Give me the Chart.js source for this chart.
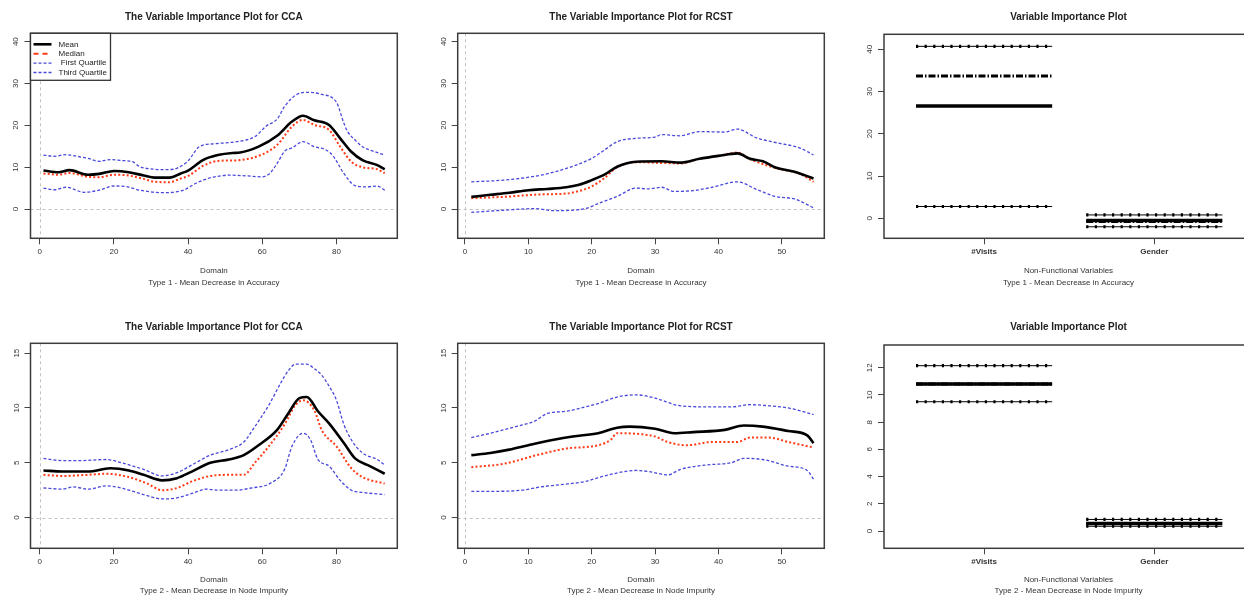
<!DOCTYPE html>
<html><head><meta charset="utf-8">
<script src="https://cdn.jsdelivr.net/npm/chart.js@4.4.1/dist/chart.umd.min.js"></script>
<style>
html,body{margin:0;padding:0;background:#fff;width:1244px;height:598px;overflow:hidden;position:relative}
canvas{position:absolute;display:block}
</style></head><body>
<canvas id="c1" width="415" height="300" style="left:0;top:0"></canvas>
<canvas id="c2" width="415" height="300" style="left:415px;top:0"></canvas>
<canvas id="c3" width="430" height="300" style="left:830px;top:0"></canvas>
<canvas id="c4" width="415" height="298" style="left:0;top:300px"></canvas>
<canvas id="c5" width="415" height="298" style="left:415px;top:300px"></canvas>
<canvas id="c6" width="430" height="298" style="left:830px;top:300px"></canvas>
<script>
// ---------- DATA ----------
// [domain index, importance]
const ccaAccMean = [[1,9.2],[5,8.8],[8,9.3],[13,8.2],[16,8.4],[20,9.1],[24,8.8],[28,8.0],[31,7.5],[35,7.5],[38,8.5],[40,9.2],[44,11.7],[48,12.9],[52,13.4],[54,13.5],[59,14.9],[64,17.5],[68,20.9],[71,22.3],[74,21.2],[78,20.1],[81,16.9],[84,13.7],[87,11.7],[91,10.5],[93,9.5]];
const ccaAccMedian = [[1,8.5],[5,8.2],[8,8.6],[13,7.7],[16,7.6],[20,8.2],[24,8.0],[28,7.2],[31,6.5],[35,6.4],[38,7.3],[40,7.9],[44,10.3],[48,11.5],[52,11.6],[54,11.7],[59,12.7],[64,15.3],[68,19.7],[71,21.3],[74,20.1],[78,18.9],[81,14.9],[84,11.3],[87,10.0],[91,9.5],[93,8.6]];
const ccaAccQ1 = [[1,5.0],[4,4.6],[7,5.2],[12,4.0],[16,4.5],[20,5.5],[23,5.4],[27,4.5],[33,3.9],[36,4.0],[39,4.6],[42,6.1],[45,7.2],[48,7.8],[51,8.1],[56,7.9],[60,7.7],[62,8.5],[64,10.9],[66,13.8],[68,14.6],[71,16.1],[74,14.9],[77,14.2],[79,12.8],[82,8.5],[85,5.6],[88,5.3],[91,5.5],[93,4.5]];
const ccaAccQ3 = [[1,12.9],[4,12.6],[7,13.0],[10,12.6],[13,12.1],[16,11.4],[19,11.8],[22,11.6],[25,11.3],[27,10.1],[30,9.6],[33,9.4],[36,9.5],[38,10.2],[40,11.5],[43,14.9],[47,15.6],[53,16.1],[58,17.3],[61,19.8],[64,21.5],[66,24.5],[69,27.2],[72,27.9],[76,27.4],[80,25.5],[82,20.5],[83,18.5],[85,16.5],[87,14.9],[90,13.8],[93,12.9]];

const rcstAccMean = [[1,2.9],[4,3.4],[7,3.9],[10,4.5],[13,4.8],[16,5.2],[18,5.8],[20,6.9],[22,8.2],[24,10.1],[27,11.3],[31,11.4],[34,11.1],[37,12.0],[40,12.7],[43,13.3],[45,12.0],[47,11.4],[49,9.9],[52,8.9],[55,7.3]];
const rcstAccMedian = [[1,2.6],[6,2.9],[12,3.5],[16,3.7],[18,4.3],[20,5.4],[22,7.4],[24,10.0],[27,11.2],[31,11.0],[34,10.9],[37,12.0],[40,12.7],[43,13.5],[45,11.9],[49,9.8],[53,8.3],[55,6.5]];
const rcstAccQ1 = [[1,-0.8],[6,-0.3],[11,0.1],[14,-0.4],[19,0.1],[21,1.3],[24,3.0],[27,5.0],[29,4.8],[31,5.2],[33,4.2],[36,4.4],[39,5.2],[43,6.5],[46,4.7],[49,3.0],[52,2.4],[55,0.3]];
const rcstAccQ3 = [[1,6.5],[6,6.9],[12,8.1],[16,9.7],[20,12.1],[22,14.1],[24,16.1],[27,16.9],[30,17.2],[31,17.8],[34,17.5],[37,18.5],[41,18.4],[43,19.1],[46,17.0],[49,15.9],[53,14.5],[55,12.9]];

const ccaNodeMean = [[1,4.3],[6,4.2],[13,4.2],[19,4.5],[24,4.3],[28,3.9],[33,3.4],[37,3.6],[41,4.2],[46,5.0],[51,5.3],[55,5.7],[59,6.6],[64,8.0],[67,9.5],[70,10.9],[72,11.0],[75,9.7],[78,8.6],[82,6.8],[85,5.4],[89,4.7],[93,4.0]];
const ccaNodeMedian = [[1,3.9],[6,3.8],[13,3.9],[18,4.0],[24,3.7],[29,3.1],[33,2.5],[37,2.7],[41,3.3],[46,3.8],[51,3.9],[55,3.9],[58,5.0],[62,6.6],[66,8.5],[69,10.3],[71,10.7],[74,9.8],[76,8.0],[80,6.5],[84,4.5],[87,3.7],[93,3.1]];
const ccaNodeQ1 = [[1,2.7],[6,2.6],[9,2.8],[13,2.6],[18,2.9],[22,2.7],[28,2.1],[33,1.7],[37,1.8],[41,2.2],[45,2.6],[48,2.5],[53,2.5],[57,2.7],[62,3.1],[66,4.4],[68,6.5],[71,7.7],[73,7.1],[75,5.3],[78,4.7],[81,3.4],[84,2.5],[87,2.3],[93,2.1]];
const ccaNodeQ3 = [[1,5.4],[6,5.2],[11,5.2],[18,5.3],[22,5.0],[28,4.4],[33,3.8],[37,4.1],[41,4.8],[46,5.7],[51,6.2],[55,6.9],[58,8.3],[62,10.4],[65,12.3],[67,13.4],[69,14.0],[72,14.0],[74,13.6],[76,13.0],[78,12.0],[80,10.7],[82,8.5],[84,7.1],[87,5.9],[91,5.3],[93,4.8]];

const rcstNodeMean = [[1,5.7],[4,5.9],[7,6.2],[10,6.6],[14,7.1],[17,7.4],[21,7.7],[24,8.2],[26,8.3],[30,8.1],[33,7.7],[36,7.8],[41,8.0],[44,8.4],[47,8.3],[51,7.9],[54,7.5],[55,6.8]];
const rcstNodeMedian = [[1,4.6],[6,4.9],[12,5.8],[16,6.3],[21,6.6],[23,7.1],[24,7.7],[28,7.6],[30,7.4],[32,6.9],[35,6.6],[39,6.9],[43,6.9],[45,7.3],[48,7.3],[51,6.9],[55,6.4]];
const rcstNodeQ1 = [[1,2.4],[5,2.4],[9,2.5],[12,2.8],[15,3.0],[19,3.3],[22,3.8],[27,4.3],[29,4.2],[32,3.9],[34,4.4],[38,4.8],[42,5.0],[44,5.4],[47,5.3],[51,4.7],[54,4.3],[55,3.5]];
const rcstNodeQ3 = [[1,7.3],[4,7.7],[8,8.3],[11,8.8],[13,9.5],[16,9.7],[19,10.1],[21,10.4],[24,11.0],[27,11.2],[30,10.9],[34,10.2],[39,10.1],[42,10.1],[45,10.3],[48,10.2],[51,10.0],[55,9.4]];

// Non-functional variables: statistic lines per variable
const nfCategories = ['#Visits', 'Gender'];
const nfStatNames = ['Third Quartile', 'Median', 'Mean', 'First Quartile'];
const visitsAcc = [40.7, 33.7, 26.6, 2.8];
const genderAcc = [0.8, -0.75, -0.5, -2.0];
const visitsNode = [12.15, 10.8, 10.8, 9.5];
const genderNode = [0.85, 0.55, 0.55, 0.35];

// tick labels
const ccaXTicks = [0, 20, 40, 60, 80];
const rcstXTicks = [0, 10, 20, 30, 40, 50];
const accYTicks = [0, 10, 20, 30, 40];
const nodeYTicks = [0, 5, 10, 15];
const nfNodeYTicks = [0, 2, 4, 6, 8, 10, 12];
const nfXTicks = [1, 2];

// ---------- STYLE ----------
const FONT = "'Liberation Sans', Arial, Helvetica, sans-serif";
const BLUE = '#4848dc', RED = '#ff3a14';
const SEG_HALF = 0.4;

function pts(arr){ return arr.map(p => ({x:p[0], y:p[1]})); }
function curveSets(mean, median, q1, q3){
  return [
    {label:'Mean', data:pts(mean), borderColor:'#000', borderWidth:2.6, borderDash:[]},
    {label:'Median', data:pts(median), borderColor:RED, borderWidth:2, borderDash:[2,2.2]},
    {label:' First Quartile', data:pts(q1), borderColor:BLUE, borderWidth:1.3, borderDash:[3,2]},
    {label:'Third Quartile', data:pts(q3), borderColor:BLUE, borderWidth:1.3, borderDash:[3,2]}
  ];
}
function segSets(center, vals){
  const out = [];
  vals.forEach((v, i) => {
    const d = [{x:center-SEG_HALF, y:v}, {x:center+SEG_HALF, y:v}];
    const name = nfStatNames[i];
    if (name === 'Mean') {
      out.push({label:name, data:d, borderColor:'#000', borderWidth:3.5, borderDash:[]});
    } else if (name === 'Median') {
      out.push({label:name, data:d, borderColor:'#000', borderWidth:3, borderDash:[7,2,1.5,2]});
    } else {
      out.push({label:name, data:d, borderColor:'#000', borderWidth:1, borderDash:[]});
      out.push({label:name, data:d, borderColor:'#000', borderWidth:3.2, borderDash:[2.2,6.4]});
    }
  });
  return out;
}

const framePlugin = {
  id: 'frame',
  beforeDatasetsDraw(chart, args, o){
    if (!o.refLines) return;
    const {ctx, chartArea:a, scales:{x, y}} = chart;
    ctx.save();
    ctx.strokeStyle = '#c2c2c2'; ctx.lineWidth = 1; ctx.setLineDash([3,3]);
    ctx.beginPath();
    const py = Math.round(y.getPixelForValue(0)) + 0.5;
    ctx.moveTo(a.left, py); ctx.lineTo(a.right, py);
    const px = Math.round(x.getPixelForValue(0)) + 0.5;
    ctx.moveTo(px, a.top); ctx.lineTo(px, a.bottom);
    ctx.stroke(); ctx.restore();
  },
  afterDraw(chart, args, o){
    const {ctx, chartArea:a, scales:{y}} = chart;
    ctx.save();
    ctx.setLineDash([]);
    ctx.strokeStyle = '#3c3c3c'; ctx.lineWidth = 1.5;
    ctx.strokeRect(a.left, a.top, a.right - a.left, a.bottom - a.top);
    ctx.fillStyle = '#222'; ctx.textAlign = 'center'; ctx.textBaseline = 'middle';
    ctx.font = 'bold 10px ' + FONT;
    ctx.fillText(o.title, (a.left + a.right) / 2, o.titleY);
    ctx.font = '8px ' + FONT; ctx.fillStyle = '#333';
    y.ticks.forEach(t => {
      const py = y.getPixelForValue(t.value);
      ctx.save(); ctx.translate(a.left - o.labelOffset, py); ctx.rotate(-Math.PI / 2);
      ctx.fillText(t.label, 0, 0); ctx.restore();
    });
    ctx.restore();
  }
};

const insetLegend = {
  id: 'insetLegend',
  afterDraw(chart, args, o){
    if (!o.show) return;
    const {ctx, chartArea:a} = chart;
    const x0 = a.left, y0 = a.top, w = 80, h = 47;
    ctx.save();
    ctx.fillStyle = '#fff'; ctx.fillRect(x0, y0, w, h);
    ctx.strokeStyle = '#333'; ctx.lineWidth = 1.3; ctx.strokeRect(x0, y0, w, h);
    chart.data.datasets.forEach((ds, i) => {
      const yy = y0 + 11 + i * 9.4;
      ctx.strokeStyle = ds.borderColor; ctx.lineWidth = ds.borderWidth;
      ctx.setLineDash(i === 1 ? [5,4] : (ds.borderDash || []));
      ctx.beginPath(); ctx.moveTo(x0 + 3, yy); ctx.lineTo(x0 + 21, yy); ctx.stroke();
      ctx.setLineDash([]);
      ctx.fillStyle = '#222'; ctx.font = '8px ' + FONT; ctx.textAlign = 'left'; ctx.textBaseline = 'middle';
      ctx.fillText(ds.label, x0 + 28, yy);
    });
    ctx.restore();
  }
};

function panel(id, s){
  const cv = document.getElementById(id);
  const W = cv.width, H = cv.height, A = s.area;
  return new Chart(cv, {
    type: 'line',
    data: {datasets: s.datasets},
    options: {
      responsive: false, animation: false, devicePixelRatio: 1,
      layout: {autoPadding: false, padding: {left: 0, top: A.t, right: W - A.r, bottom: 0}},
      elements: {point: {radius: 0}, line: {tension: s.tension || 0, cubicInterpolationMode: 'monotone', borderCapStyle: 'butt'}},
      plugins: {
        legend: {display: false}, tooltip: {enabled: false},
        frame: {title: s.title, titleY: s.titleY, labelOffset: s.labelOffset, refLines: s.refLines},
        insetLegend: {show: !!s.legend}
      },
      scales: {
        x: {
          type: 'linear', min: s.x[0], max: s.x[1],
          afterFit: sc => { sc.height = H - A.b; },
          afterBuildTicks: sc => { sc.ticks = s.xTicks.map(v => ({value: v})); },
          grid: {display: true, drawOnChartArea: false, drawTicks: true, tickLength: 6, color: '#444', lineWidth: 1},
          border: {display: false},
          ticks: {color: '#333', padding: 3, maxRotation: 0, autoSkip: false,
                  font: {family: FONT, size: 8, weight: s.xCats ? 'bold' : 'normal'},
                  callback: s.xCats ? (v => s.xCats[v - 1]) : (v => String(v))},
          title: {display: true, text: s.xTitle, color: '#333', font: {family: FONT, size: 8, lineHeight: 1.44},
                  padding: {top: 0, bottom: s.titlePad}}
        },
        y: {
          type: 'linear', min: s.y[0], max: s.y[1],
          afterFit: sc => { sc.width = A.l; },
          afterBuildTicks: sc => { sc.ticks = s.yTicks.map(v => ({value: v})); },
          grid: {display: true, drawOnChartArea: false, drawTicks: true, tickLength: 6, color: '#444', lineWidth: 1},
          border: {display: false},
          ticks: {display: false, callback: v => String(v)}
        }
      }
    },
    plugins: [framePlugin, insetLegend]
  });
}

const topArea = {t: 33.3, b: 238.3};
const botArea = {t: 43.3, b: 248.3};

panel('c1', {area: {l: 30.5, r: 397.3, ...topArea}, x: [-2.5, 96.4], y: [-7.0, 42.0], xTicks: ccaXTicks, yTicks: accYTicks,
  datasets: curveSets(ccaAccMean, ccaAccMedian, ccaAccQ1, ccaAccQ3), tension: 0.4, legend: true, refLines: true,
  title: 'The Variable Importance Plot for CCA', titleY: 17, labelOffset: 15,
  xTitle: ['Domain', 'Type 1 - Mean Decrease in Accuracy'], titlePad: 11.8});
panel('c2', {area: {l: 42.7, r: 409.3, ...topArea}, x: [-1.15, 56.7], y: [-7.0, 42.0], xTicks: rcstXTicks, yTicks: accYTicks,
  datasets: curveSets(rcstAccMean, rcstAccMedian, rcstAccQ1, rcstAccQ3), tension: 0.4, refLines: true,
  title: 'The Variable Importance Plot for RCST', titleY: 17, labelOffset: 14,
  xTitle: ['Domain', 'Type 1 - Mean Decrease in Accuracy'], titlePad: 11.8});
panel('c3', {area: {l: 54, r: 423, t: 34.3, b: 238.3}, x: [0.412, 2.58], y: [-4.73, 43.55], xTicks: nfXTicks, yTicks: accYTicks,
  datasets: segSets(1, visitsAcc).concat(segSets(2, genderAcc)), xCats: nfCategories,
  title: 'Variable Importance Plot', titleY: 17, labelOffset: 14.5,
  xTitle: ['Non-Functional Variables', 'Type 1 - Mean Decrease in Accuracy'], titlePad: 11.8});
panel('c4', {area: {l: 30.5, r: 397.3, ...botArea}, x: [-2.5, 96.4], y: [-2.8, 15.9], xTicks: ccaXTicks, yTicks: nodeYTicks,
  datasets: curveSets(ccaNodeMean, ccaNodeMedian, ccaNodeQ1, ccaNodeQ3), tension: 0.4, refLines: true,
  title: 'The Variable Importance Plot for CCA', titleY: 27, labelOffset: 14,
  xTitle: ['Domain', 'Type 2 - Mean Decrease in Node Impurity'], titlePad: 1.0});
panel('c5', {area: {l: 42.7, r: 409.3, ...botArea}, x: [-1.15, 56.7], y: [-2.8, 15.9], xTicks: rcstXTicks, yTicks: nodeYTicks,
  datasets: curveSets(rcstNodeMean, rcstNodeMedian, rcstNodeQ1, rcstNodeQ3), tension: 0.4, refLines: true,
  title: 'The Variable Importance Plot for RCST', titleY: 27, labelOffset: 14,
  xTitle: ['Domain', 'Type 2 - Mean Decrease in Node Impurity'], titlePad: 1.0});
panel('c6', {area: {l: 54, r: 423, t: 45, b: 248.3}, x: [0.412, 2.58], y: [-1.27, 13.67], xTicks: nfXTicks, yTicks: nfNodeYTicks,
  datasets: segSets(1, visitsNode).concat(segSets(2, genderNode)), xCats: nfCategories,
  title: 'Variable Importance Plot', titleY: 27, labelOffset: 14,
  xTitle: ['Non-Functional Variables', 'Type 2 - Mean Decrease in Node Impurity'], titlePad: 1.0});
</script>
</body></html>
